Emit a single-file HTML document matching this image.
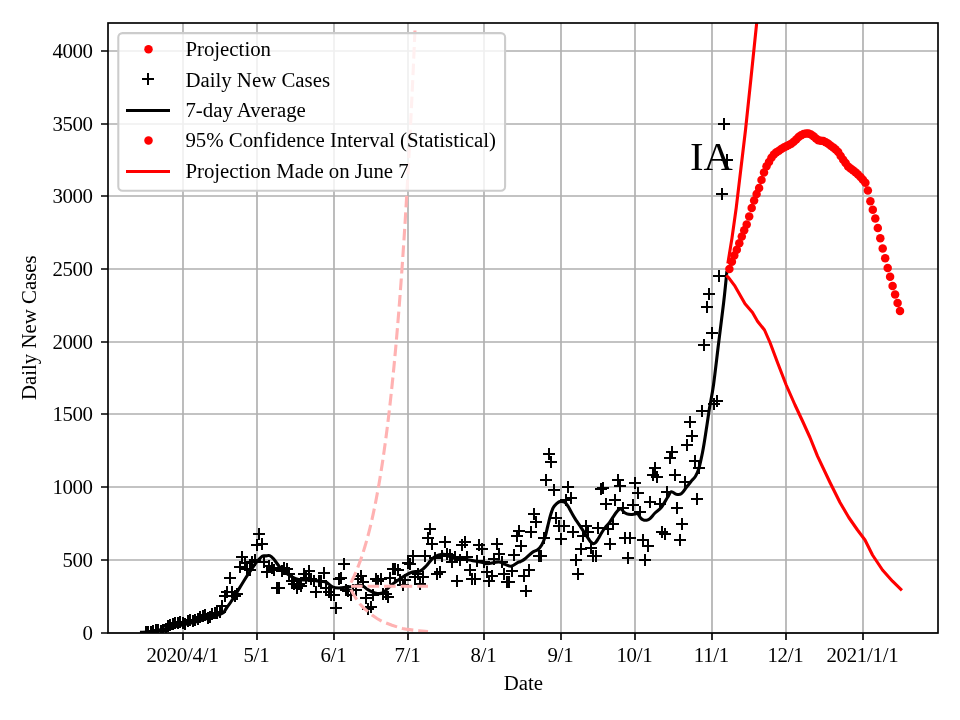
<!DOCTYPE html>
<html lang="en"><head><meta charset="utf-8"><title>IA Daily New Cases</title>
<style>html,body{margin:0;padding:0;background:#fff}body{width:960px;height:720px;overflow:hidden}</style></head>
<body>
<svg width="960" height="720" viewBox="0 0 960 720" style="display:block">
<rect width="960" height="720" fill="#fff"/>
<defs><clipPath id="c"><rect x="108" y="23" width="830" height="610"/></clipPath>
<g id="p"><path d="M-6 0H6M0 -6V6" stroke="#000" stroke-width="2" fill="none" shape-rendering="crispEdges"/></g>
</defs>
<path d="M183 23V633M257 23V633M334 23V633M408 23V633M484 23V633M561 23V633M635 23V633M712 23V633M786 23V633M863 23V633M108 633H938M108 560H938M108 487H938M108 414H938M108 342H938M108 269H938M108 196H938M108 124H938M108 51H938" stroke="#b0b0b0" stroke-width="1.67" fill="none"/>
<g clip-path="url(#c)">
<g><use href="#p" x="146" y="632"/><use href="#p" x="148" y="632"/><use href="#p" x="151" y="632"/><use href="#p" x="153" y="631"/><use href="#p" x="156" y="630"/><use href="#p" x="158" y="630"/><use href="#p" x="161" y="631"/><use href="#p" x="163" y="630"/><use href="#p" x="166" y="629"/><use href="#p" x="168" y="626"/><use href="#p" x="170" y="625"/><use href="#p" x="173" y="624"/><use href="#p" x="175" y="623"/><use href="#p" x="178" y="623"/><use href="#p" x="180" y="622"/><use href="#p" x="183" y="623"/><use href="#p" x="185" y="624"/><use href="#p" x="188" y="621"/><use href="#p" x="190" y="620"/><use href="#p" x="193" y="621"/><use href="#p" x="195" y="620"/><use href="#p" x="198" y="619"/><use href="#p" x="200" y="617"/><use href="#p" x="203" y="616"/><use href="#p" x="205" y="615"/><use href="#p" x="208" y="618"/><use href="#p" x="210" y="617"/><use href="#p" x="212" y="614"/><use href="#p" x="215" y="613"/><use href="#p" x="217" y="613"/><use href="#p" x="220" y="612"/><use href="#p" x="222" y="606"/><use href="#p" x="225" y="596"/><use href="#p" x="227" y="592"/><use href="#p" x="230" y="578"/><use href="#p" x="232" y="592"/><use href="#p" x="235" y="596"/><use href="#p" x="237" y="594"/><use href="#p" x="240" y="567"/><use href="#p" x="242" y="557"/><use href="#p" x="245" y="563"/><use href="#p" x="247" y="569"/><use href="#p" x="250" y="570"/><use href="#p" x="252" y="562"/><use href="#p" x="255" y="560"/><use href="#p" x="257" y="545"/><use href="#p" x="259" y="534"/><use href="#p" x="262" y="544"/><use href="#p" x="264" y="562"/><use href="#p" x="267" y="572"/><use href="#p" x="269" y="566"/><use href="#p" x="272" y="568"/><use href="#p" x="274" y="570"/><use href="#p" x="277" y="588"/><use href="#p" x="279" y="588"/><use href="#p" x="282" y="571"/><use href="#p" x="284" y="568"/><use href="#p" x="287" y="569"/><use href="#p" x="289" y="574"/><use href="#p" x="292" y="581"/><use href="#p" x="294" y="584"/><use href="#p" x="297" y="588"/><use href="#p" x="299" y="584"/><use href="#p" x="301" y="586"/><use href="#p" x="304" y="574"/><use href="#p" x="306" y="578"/><use href="#p" x="309" y="571"/><use href="#p" x="311" y="579"/><use href="#p" x="314" y="581"/><use href="#p" x="316" y="592"/><use href="#p" x="319" y="581"/><use href="#p" x="321" y="581"/><use href="#p" x="324" y="573"/><use href="#p" x="326" y="588"/><use href="#p" x="329" y="592"/><use href="#p" x="331" y="595"/><use href="#p" x="334" y="595"/><use href="#p" x="336" y="608"/><use href="#p" x="339" y="579"/><use href="#p" x="341" y="578"/><use href="#p" x="344" y="564"/><use href="#p" x="346" y="590"/><use href="#p" x="348" y="591"/><use href="#p" x="351" y="595"/><use href="#p" x="353" y="590"/><use href="#p" x="356" y="590"/><use href="#p" x="358" y="579"/><use href="#p" x="361" y="576"/><use href="#p" x="363" y="582"/><use href="#p" x="366" y="598"/><use href="#p" x="368" y="609"/><use href="#p" x="371" y="607"/><use href="#p" x="373" y="595"/><use href="#p" x="376" y="579"/><use href="#p" x="378" y="581"/><use href="#p" x="381" y="579"/><use href="#p" x="383" y="594"/><use href="#p" x="386" y="594"/><use href="#p" x="388" y="597"/><use href="#p" x="390" y="578"/><use href="#p" x="393" y="569"/><use href="#p" x="395" y="569"/><use href="#p" x="398" y="570"/><use href="#p" x="400" y="580"/><use href="#p" x="403" y="585"/><use href="#p" x="405" y="580"/><use href="#p" x="408" y="563"/><use href="#p" x="410" y="564"/><use href="#p" x="413" y="556"/><use href="#p" x="415" y="577"/><use href="#p" x="418" y="574"/><use href="#p" x="420" y="584"/><use href="#p" x="423" y="577"/><use href="#p" x="425" y="556"/><use href="#p" x="428" y="538"/><use href="#p" x="430" y="529"/><use href="#p" x="432" y="544"/><use href="#p" x="435" y="558"/><use href="#p" x="437" y="574"/><use href="#p" x="440" y="572"/><use href="#p" x="442" y="556"/><use href="#p" x="445" y="542"/><use href="#p" x="447" y="554"/><use href="#p" x="450" y="555"/><use href="#p" x="452" y="562"/><use href="#p" x="455" y="557"/><use href="#p" x="457" y="581"/><use href="#p" x="460" y="560"/><use href="#p" x="462" y="545"/><use href="#p" x="465" y="542"/><use href="#p" x="467" y="557"/><use href="#p" x="470" y="570"/><use href="#p" x="472" y="579"/><use href="#p" x="475" y="579"/><use href="#p" x="477" y="561"/><use href="#p" x="479" y="545"/><use href="#p" x="482" y="549"/><use href="#p" x="484" y="562"/><use href="#p" x="487" y="572"/><use href="#p" x="489" y="581"/><use href="#p" x="492" y="576"/><use href="#p" x="494" y="559"/><use href="#p" x="497" y="544"/><use href="#p" x="499" y="554"/><use href="#p" x="502" y="562"/><use href="#p" x="504" y="574"/><use href="#p" x="507" y="582"/><use href="#p" x="509" y="582"/><use href="#p" x="512" y="571"/><use href="#p" x="514" y="555"/><use href="#p" x="517" y="536"/><use href="#p" x="519" y="531"/><use href="#p" x="521" y="546"/><use href="#p" x="524" y="576"/><use href="#p" x="526" y="591"/><use href="#p" x="529" y="570"/><use href="#p" x="531" y="532"/><use href="#p" x="534" y="514"/><use href="#p" x="536" y="522"/><use href="#p" x="539" y="556"/><use href="#p" x="541" y="556"/><use href="#p" x="544" y="538"/><use href="#p" x="546" y="480"/><use href="#p" x="549" y="454"/><use href="#p" x="551" y="462"/><use href="#p" x="554" y="490"/><use href="#p" x="556" y="518"/><use href="#p" x="559" y="526"/><use href="#p" x="561" y="539"/><use href="#p" x="564" y="526"/><use href="#p" x="566" y="500"/><use href="#p" x="568" y="487"/><use href="#p" x="571" y="498"/><use href="#p" x="573" y="532"/><use href="#p" x="576" y="560"/><use href="#p" x="578" y="574"/><use href="#p" x="581" y="549"/><use href="#p" x="583" y="536"/><use href="#p" x="586" y="526"/><use href="#p" x="588" y="532"/><use href="#p" x="591" y="548"/><use href="#p" x="593" y="556"/><use href="#p" x="596" y="556"/><use href="#p" x="598" y="528"/><use href="#p" x="601" y="489"/><use href="#p" x="603" y="488"/><use href="#p" x="606" y="504"/><use href="#p" x="608" y="529"/><use href="#p" x="610" y="544"/><use href="#p" x="613" y="524"/><use href="#p" x="615" y="500"/><use href="#p" x="618" y="480"/><use href="#p" x="620" y="486"/><use href="#p" x="623" y="508"/><use href="#p" x="625" y="538"/><use href="#p" x="628" y="558"/><use href="#p" x="630" y="538"/><use href="#p" x="633" y="505"/><use href="#p" x="635" y="483"/><use href="#p" x="638" y="493"/><use href="#p" x="640" y="512"/><use href="#p" x="643" y="540"/><use href="#p" x="645" y="560"/><use href="#p" x="648" y="546"/><use href="#p" x="650" y="502"/><use href="#p" x="653" y="475"/><use href="#p" x="655" y="468"/><use href="#p" x="657" y="477"/><use href="#p" x="660" y="504"/><use href="#p" x="662" y="532"/><use href="#p" x="665" y="534"/><use href="#p" x="667" y="492"/><use href="#p" x="670" y="458"/><use href="#p" x="672" y="452"/><use href="#p" x="675" y="475"/><use href="#p" x="677" y="508"/><use href="#p" x="680" y="540"/><use href="#p" x="682" y="524"/><use href="#p" x="685" y="482"/><use href="#p" x="687" y="445"/><use href="#p" x="690" y="422"/><use href="#p" x="692" y="436"/><use href="#p" x="695" y="461"/><use href="#p" x="697" y="499"/><use href="#p" x="699" y="468"/><use href="#p" x="702" y="411"/><use href="#p" x="704" y="345"/><use href="#p" x="707" y="307"/><use href="#p" x="709" y="294"/><use href="#p" x="712" y="333"/><use href="#p" x="714" y="404"/><use href="#p" x="717" y="401"/><use href="#p" x="719" y="276"/><use href="#p" x="722" y="194"/><use href="#p" x="724" y="124"/><use href="#p" x="727" y="160"/></g>
<path d="M140.0 632.3C141.2 632.2 145.0 632.2 147.0 632.0C149.0 631.8 150.2 631.6 152.0 631.3C153.8 631.0 155.8 630.7 158.0 630.3C160.2 629.9 161.3 629.5 165.0 628.7C168.7 627.9 175.0 626.6 180.0 625.5C185.0 624.4 190.0 623.3 195.0 622.0C200.0 620.7 206.2 618.7 210.0 617.5C213.8 616.3 215.8 615.8 218.0 615.0C220.2 614.2 222.1 613.8 223.5 612.6C224.9 611.4 225.0 610.1 226.5 608.0C228.0 605.9 229.1 604.8 232.3 599.7C235.6 594.6 242.7 582.7 246.0 577.5C249.3 572.3 250.1 571.2 252.0 568.5C253.9 565.8 255.5 563.3 257.2 561.3C258.9 559.3 260.8 557.2 262.2 556.3C263.6 555.4 264.4 556.0 265.6 555.9C266.9 555.8 268.4 555.1 269.7 555.6C271.0 556.1 271.6 556.6 273.5 558.8C275.4 561.0 278.9 566.4 281.0 568.8C283.1 571.2 284.3 571.8 286.0 573.0C287.7 574.2 288.9 575.2 291.0 576.3C293.1 577.4 296.0 578.8 298.5 579.4C301.0 580.0 303.1 579.8 306.0 580.0C308.9 580.2 313.5 580.4 316.0 580.6C318.5 580.9 319.3 581.3 321.0 581.5C322.7 581.7 324.1 581.1 326.0 582.0C327.9 582.9 330.4 585.9 332.5 586.9C334.6 587.9 336.0 588.0 338.8 588.0C341.5 588.0 345.5 587.3 348.8 586.9C352.0 586.5 355.7 585.7 358.0 585.5C360.3 585.3 360.9 585.0 362.5 585.6C364.1 586.2 365.4 588.2 367.5 589.4C369.6 590.6 372.5 592.4 375.0 593.0C377.5 593.6 380.0 594.1 382.5 593.0C385.0 591.9 387.5 588.3 390.0 586.2C392.5 584.2 395.0 582.4 397.5 580.6C400.0 578.8 402.5 577.1 405.0 575.6C407.5 574.1 410.0 572.6 412.5 571.9C415.0 571.2 417.7 572.2 420.0 571.2C422.3 570.3 424.2 568.1 426.2 566.0C428.3 563.9 430.4 560.3 432.5 558.5C434.6 556.7 436.7 555.7 438.8 555.0C440.8 554.3 442.7 553.9 445.0 554.4C447.3 554.9 449.6 557.3 452.5 558.0C455.4 558.7 459.2 558.3 462.5 558.8C465.8 559.2 469.2 560.0 472.5 560.6C475.8 561.2 480.0 562.0 482.5 562.5C485.0 563.0 484.8 563.9 487.5 563.8C490.2 563.6 495.8 561.8 498.8 561.9C501.7 562.0 502.9 563.7 505.0 564.4C507.1 565.1 509.0 566.7 511.2 566.2C513.5 565.8 517.3 562.6 518.8 561.9C520.2 561.2 518.9 562.5 520.0 561.9C521.1 561.3 523.4 560.1 525.4 558.5C527.4 556.9 530.2 553.9 532.2 552.4C534.2 550.9 536.0 550.9 537.6 549.7C539.2 548.5 540.5 547.1 541.7 545.0C543.0 542.9 544.1 540.1 545.1 536.9C546.1 533.7 546.9 529.6 547.8 526.0C548.7 522.4 549.6 518.2 550.5 515.2C551.4 512.2 552.2 509.7 553.2 507.8C554.2 505.9 555.4 504.8 556.6 503.7C557.8 502.6 559.2 501.6 560.6 501.4C562.0 501.2 563.5 501.5 564.7 502.3C566.0 503.1 567.0 504.7 568.1 506.4C569.2 508.1 570.3 510.4 571.5 512.5C572.7 514.6 574.1 517.1 575.5 519.3C576.9 521.4 578.2 523.4 579.6 525.4C581.0 527.4 582.2 529.5 583.6 531.5C585.0 533.5 586.6 535.9 587.7 537.6C588.8 539.3 589.5 540.6 590.4 541.6C591.3 542.6 592.2 543.5 593.1 543.6C594.0 543.7 594.9 543.2 595.8 542.3C596.7 541.4 597.6 539.7 598.5 538.2C599.4 536.7 600.1 535.3 601.2 533.5C602.3 531.7 603.9 529.2 605.3 527.4C606.7 525.6 608.0 524.5 609.4 522.7C610.8 520.9 612.2 518.4 613.4 516.6C614.6 514.8 615.8 513.0 616.8 511.8C617.8 510.6 618.7 509.6 619.5 509.1C620.3 508.7 620.9 508.7 621.6 509.1C622.3 509.6 622.7 511.0 623.6 511.8C624.5 512.6 625.8 513.4 627.0 513.9C628.2 514.4 629.6 514.5 631.0 514.5C632.4 514.5 634.0 514.0 635.1 513.9C636.2 513.8 636.9 513.2 637.8 513.9C638.7 514.6 639.6 516.9 640.5 517.9C641.4 518.9 642.2 519.5 643.2 519.9C644.2 520.3 645.5 520.4 646.6 520.2C647.7 520.0 648.6 519.8 650.0 518.6C651.4 517.4 653.1 514.9 655.0 513.0C656.9 511.1 659.2 510.1 661.2 507.5C663.3 504.9 665.8 500.1 667.5 497.5C669.2 494.9 669.8 492.3 671.2 491.8C672.7 491.2 674.6 493.9 676.2 494.2C677.9 494.6 679.6 494.9 681.2 493.8C682.9 492.6 684.6 489.6 686.2 487.5C687.9 485.4 689.7 483.1 691.2 481.2C692.8 479.4 694.2 478.3 695.5 476.2C696.8 474.2 697.6 472.7 698.8 468.8C699.9 464.8 701.2 459.0 702.5 452.5C703.8 446.0 705.1 437.4 706.2 430.0C707.4 422.6 708.3 415.5 709.5 408.0C710.7 400.5 712.0 395.9 713.5 385.0C715.0 374.1 717.0 356.2 718.7 342.5C720.4 328.8 722.2 314.9 723.6 303.0C725.0 291.1 726.4 276.5 726.9 271.2" stroke="#000" stroke-width="3.1" fill="none" stroke-linejoin="round" stroke-linecap="butt"/>
<path d="M351.0 582.6 L352.0 580.6 L353.0 578.5 L354.0 576.4 L355.0 574.1 L356.0 571.8 L357.0 569.4 L358.0 566.9 L359.0 564.3 L360.0 561.6 L361.0 558.8 L362.0 555.8 L363.0 552.8 L364.0 549.6 L365.0 546.3 L366.0 542.9 L367.0 539.3 L368.0 535.6 L369.0 531.8 L370.0 527.8 L371.0 523.6 L372.0 519.3 L373.0 514.8 L374.0 510.2 L375.0 505.3 L376.0 500.2 L377.0 495.0 L378.0 489.5 L379.0 483.9 L380.0 478.0 L381.0 471.8 L382.0 465.5 L383.0 458.8 L384.0 451.9 L385.0 444.8 L386.0 437.3 L387.0 429.6 L388.0 421.5 L389.0 413.2 L390.0 404.5 L391.0 395.4 L392.0 386.0 L393.0 376.2 L394.0 366.1 L395.0 355.5 L396.0 344.5 L397.0 333.1 L398.0 321.2 L399.0 308.9 L400.0 296.0 L401.0 282.7 L402.0 268.8 L403.0 254.4 L404.0 239.4 L405.0 223.8 L406.0 207.6 L407.0 190.7 L408.0 173.2 L409.0 155.0 L410.0 136.1 L411.0 116.4 L412.0 95.9 L413.0 74.6 L414.0 52.5 L415.0 29.5" stroke="#ffb2b2" stroke-width="3.1" fill="none" stroke-dasharray="11.56 5" />
<path d="M351.0 586.3 L428.0 586.3" stroke="#ffb2b2" stroke-width="3.1" fill="none" stroke-dasharray="11.56 5" />
<path d="M351.0 589.6 L353.0 593.5 L357.0 600.0 L360.0 604.0 L364.0 608.3 L369.0 612.5 L372.0 615.0 L377.0 618.5 L382.0 621.3 L386.0 623.0 L392.0 625.3 L397.5 627.0 L402.5 628.4 L408.0 629.4 L414.0 630.2 L419.0 630.7 L428.0 631.5" stroke="#ffb2b2" stroke-width="3.1" fill="none" stroke-dasharray="11.56 5" />
<path d="M728.1 262.0 L732.0 238.0 L736.2 208.0 L740.5 172.0 L745.5 130.0 L751.0 78.0 L756.7 22.8 L758.0 10.0" stroke="#f00" stroke-width="3.1" fill="none" stroke-linejoin="round" stroke-linecap="square"/>
<path d="M727.5 276.5 L728.8 277.8 L735.0 286.2 L745.0 303.8 L752.5 312.5 L757.5 321.2 L764.5 330.0 L770.0 342.5 L777.5 362.5 L786.2 385.0 L795.0 405.0 L802.5 421.0 L810.0 437.5 L817.5 456.2 L830.0 482.5 L840.0 502.5 L848.8 517.5 L857.5 530.0 L865.0 540.0 L872.5 555.0 L882.5 570.0 L892.5 581.2 L900.8 589.2" stroke="#f00" stroke-width="3.1" fill="none" stroke-linejoin="round" stroke-linecap="square"/>
<g fill="#f00"><circle cx="729.4" cy="268.9" r="4.25"/><circle cx="731.9" cy="261.8" r="4.25"/><circle cx="734.3" cy="255.5" r="4.25"/><circle cx="736.8" cy="249.8" r="4.25"/><circle cx="739.3" cy="243.3" r="4.25"/><circle cx="741.8" cy="236.5" r="4.25"/><circle cx="744.2" cy="230.2" r="4.25"/><circle cx="746.7" cy="224.4" r="4.25"/><circle cx="749.2" cy="216.4" r="4.25"/><circle cx="751.7" cy="207.9" r="4.25"/><circle cx="754.1" cy="200.5" r="4.25"/><circle cx="756.6" cy="194.0" r="4.25"/><circle cx="759.1" cy="188.0" r="4.25"/><circle cx="761.5" cy="179.9" r="4.25"/><circle cx="764.0" cy="172.6" r="4.25"/><circle cx="766.5" cy="166.2" r="4.25"/><circle cx="769.0" cy="162.1" r="4.25"/><circle cx="771.4" cy="157.7" r="4.25"/><circle cx="773.9" cy="154.6" r="4.25"/><circle cx="776.4" cy="152.3" r="4.25"/><circle cx="778.9" cy="150.7" r="4.25"/><circle cx="781.3" cy="149.0" r="4.25"/><circle cx="783.8" cy="147.5" r="4.25"/><circle cx="786.3" cy="146.2" r="4.25"/><circle cx="788.8" cy="144.9" r="4.25"/><circle cx="791.2" cy="143.7" r="4.25"/><circle cx="793.7" cy="141.7" r="4.25"/><circle cx="796.2" cy="139.5" r="4.25"/><circle cx="798.6" cy="137.1" r="4.25"/><circle cx="801.1" cy="135.3" r="4.25"/><circle cx="803.6" cy="134.0" r="4.25"/><circle cx="806.1" cy="133.5" r="4.25"/><circle cx="808.5" cy="133.5" r="4.25"/><circle cx="811.0" cy="134.4" r="4.25"/><circle cx="813.5" cy="136.3" r="4.25"/><circle cx="816.0" cy="138.4" r="4.25"/><circle cx="818.4" cy="140.3" r="4.25"/><circle cx="820.9" cy="140.7" r="4.25"/><circle cx="823.4" cy="141.1" r="4.25"/><circle cx="825.8" cy="142.3" r="4.25"/><circle cx="828.3" cy="143.8" r="4.25"/><circle cx="830.8" cy="145.7" r="4.25"/><circle cx="833.3" cy="147.6" r="4.25"/><circle cx="835.7" cy="149.5" r="4.25"/><circle cx="838.2" cy="152.0" r="4.25"/><circle cx="840.7" cy="156.0" r="4.25"/><circle cx="843.2" cy="159.7" r="4.25"/><circle cx="845.6" cy="163.1" r="4.25"/><circle cx="848.1" cy="166.6" r="4.25"/><circle cx="850.6" cy="168.4" r="4.25"/><circle cx="853.0" cy="170.2" r="4.25"/><circle cx="855.5" cy="172.3" r="4.25"/><circle cx="858.0" cy="174.5" r="4.25"/><circle cx="860.5" cy="177.1" r="4.25"/><circle cx="862.9" cy="179.8" r="4.25"/><circle cx="865.4" cy="182.8" r="4.25"/><circle cx="867.9" cy="190.5" r="4.25"/><circle cx="870.4" cy="201.3" r="4.25"/><circle cx="872.8" cy="209.8" r="4.25"/><circle cx="875.3" cy="218.5" r="4.25"/><circle cx="877.8" cy="228.0" r="4.25"/><circle cx="880.3" cy="238.3" r="4.25"/><circle cx="882.7" cy="248.6" r="4.25"/><circle cx="885.2" cy="258.3" r="4.25"/><circle cx="887.7" cy="267.9" r="4.25"/><circle cx="890.1" cy="276.8" r="4.25"/><circle cx="892.6" cy="286.1" r="4.25"/><circle cx="895.1" cy="294.4" r="4.25"/><circle cx="897.6" cy="303.1" r="4.25"/><circle cx="900.0" cy="311.1" r="4.25"/></g>
</g>
<rect x="108" y="23" width="830" height="610" fill="none" stroke="#000" stroke-width="1.67"/>
<path d="M183 633v7M257 633v7M334 633v7M408 633v7M484 633v7M561 633v7M635 633v7M712 633v7M786 633v7M863 633v7M108 633h-7M108 560h-7M108 487h-7M108 414h-7M108 342h-7M108 269h-7M108 196h-7M108 124h-7M108 51h-7" stroke="#000" stroke-width="1.67" fill="none"/>
<g font-family="'Liberation Serif','Times New Roman',serif" font-size="20.83" fill="#000">
<text x="182.4" y="661.5" text-anchor="middle" letter-spacing="-0.26">2020/4/1</text>
<text x="256.4" y="661.5" text-anchor="middle" letter-spacing="-0.26">5/1</text>
<text x="333.4" y="661.5" text-anchor="middle" letter-spacing="-0.26">6/1</text>
<text x="407.4" y="661.5" text-anchor="middle" letter-spacing="-0.26">7/1</text>
<text x="483.4" y="661.5" text-anchor="middle" letter-spacing="-0.26">8/1</text>
<text x="560.4" y="661.5" text-anchor="middle" letter-spacing="-0.26">9/1</text>
<text x="634.4" y="661.5" text-anchor="middle" letter-spacing="-0.26">10/1</text>
<text x="711.4" y="661.5" text-anchor="middle" letter-spacing="-0.26">11/1</text>
<text x="785.4" y="661.5" text-anchor="middle" letter-spacing="-0.26">12/1</text>
<text x="862.4" y="661.5" text-anchor="middle" letter-spacing="-0.26">2021/1/1</text>
<text x="92.4" y="640.0" text-anchor="end" letter-spacing="-0.42">0</text>
<text x="92.4" y="567.0" text-anchor="end" letter-spacing="-0.42">500</text>
<text x="92.4" y="494.0" text-anchor="end" letter-spacing="-0.42">1000</text>
<text x="92.4" y="421.0" text-anchor="end" letter-spacing="-0.42">1500</text>
<text x="92.4" y="349.0" text-anchor="end" letter-spacing="-0.42">2000</text>
<text x="92.4" y="276.0" text-anchor="end" letter-spacing="-0.42">2500</text>
<text x="92.4" y="203.0" text-anchor="end" letter-spacing="-0.42">3000</text>
<text x="92.4" y="131.0" text-anchor="end" letter-spacing="-0.42">3500</text>
<text x="92.4" y="58.0" text-anchor="end" letter-spacing="-0.42">4000</text>
<text x="523.3" y="690" text-anchor="middle">Date</text>
<text transform="translate(36.2 327.7) rotate(-90)" text-anchor="middle">Daily New Cases</text>
</g>
<text x="690.1" y="170" font-family="'Liberation Serif','Times New Roman',serif" font-size="40.6" fill="#000">IA</text>
<rect x="118.3" y="33.1" width="386.8" height="157.7" rx="4.2" fill="#fff" fill-opacity="0.8" stroke="#ccc" stroke-width="2.08"/>
<circle cx="148.5" cy="49.3" r="4.25" fill="#f00"/>
<use href="#p" x="148" y="79"/>
<path d="M126 110.5H170" stroke="#000" stroke-width="3.1"/>
<circle cx="148.5" cy="140.4" r="4.25" fill="#f00"/>
<path d="M126 171.5H170" stroke="#f00" stroke-width="3.1"/>
<g font-family="'Liberation Serif','Times New Roman',serif" font-size="20.83" fill="#000">
<text x="185.4" y="56">Projection</text>
<text x="185.4" y="86.5">Daily New Cases</text>
<text x="185.4" y="117">7-day Average</text>
<text x="185.4" y="147.4">95% Confidence Interval (Statistical)</text>
<text x="185.4" y="178">Projection Made on June 7</text>
</g>
</svg>
</body></html>
